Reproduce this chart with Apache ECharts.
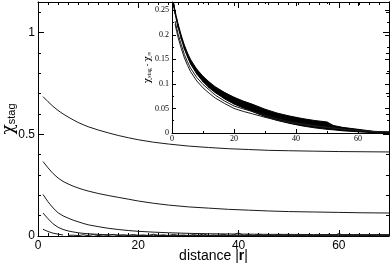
<!DOCTYPE html>
<html><head><meta charset="utf-8">
<script src="https://cdn.jsdelivr.net/npm/echarts@6/dist/echarts.min.js"></script>
<style>html,body{margin:0;padding:0;background:#fff}#c{width:390px;height:265px}</style>
</head><body><div id="c"></div>
<script>
// ---- main panel data: chi_stag vs distance |r| ----
const rMain = [1,2,3,4,5,6,7,8,9,10,12,14,16,18,20,23,26,30,34,38,42,46,50,55,60,65,70];
const chiA = [0.685,0.660,0.637,0.617,0.600,0.585,0.571,0.558,0.547,0.537,0.521,0.507,0.494,0.483,0.473,0.461,0.452,0.442,0.435,0.429,0.425,0.421,0.419,0.417,0.415,0.414,0.413];
const chiB = [0.366,0.335,0.307,0.285,0.268,0.256,0.245,0.236,0.228,0.221,0.209,0.199,0.190,0.181,0.172,0.161,0.152,0.143,0.137,0.131,0.127,0.123,0.120,0.118,0.116,0.114,0.113];
const chiC = [0.204,0.168,0.138,0.114,0.099,0.088,0.078,0.070,0.062,0.055,0.046,0.038,0.032,0.027,0.023,0.019,0.016,0.013,0.011,0.010,0.009,0.008,0.008,0.007,0.007,0.007,0.007];
const chiD = [0.113,0.085,0.060,0.043,0.032,0.025,0.020,0.016,0.013,0.011,0.008,0.006,0.005,0.004,0.003,0.003,0.002,0.002,0.002,0.002,0.002,0.002,0.002,0.002,0.002,0.002,0.002];
const rE = [1,2,3,4,5];
const chiE = [0.033,0.022,0.014,0.009,0.005];
// noisy floor of the smallest curve
const rFloor = [6,7,8,9,10,11,12,13,14,15,16,17,18,19,20,21,22,23,24,25,26,27,28,29,30,31,32,33,34,35,36,37,38,39,40,41,42,43,44,45,46,47,48,49,50,51,52,53,54,55,56,57,58,59,60,61,62,63,64,65,66,67,68,69,70];
const chiFloor = [0.003,0.004,0.002,0.006,0.002,0.007,0.002,0.005,0.003,0.008,0.002,0.005,0.002,0.007,0.003,0.005,0.002,0.009,0.003,0.006,0.002,0.008,0.003,0.005,0.002,0.007,0.003,0.010,0.002,0.005,0.003,0.008,0.002,0.006,0.015,0.003,0.007,0.002,0.009,0.003,0.006,0.002,0.009,0.003,0.007,0.002,0.005,0.003,0.008,0.002,0.006,0.003,0.009,0.002,0.012,0.003,0.005,0.002,0.007,0.003,0.004,0.002,0.006,0.003,0.004];
// ---- inset data: chi_stag - chi_inf ----
const rIn = [0.3,0.6,1,1.5,2,3,4,5,6,8,10,12,14,17,20,23,26,30,34,38,42,46,50,52,55,60,65,70];
const bandMid = [0.272,0.259,0.246,0.231,0.218,0.195,0.175,0.159,0.145,0.125,0.110,0.098,0.088,0.076,0.066,0.058,0.051,0.041,0.033,0.027,0.022,0.018,0.015,0.011,0.008,0.005,0.002,0.001];
const bandWidth = [0.006,0.006,0.006,0.006,0.007,0.007,0.008,0.008,0.009,0.010,0.011,0.012,0.012,0.013,0.014,0.014,0.015,0.015,0.015,0.015,0.015,0.015,0.015,0.009,0.007,0.005,0.003,0.002];
const rThin = [1,1.5,2,3,4,5,6,8,10,12,14,17,20,23,26,30,34,38,42,46,50,55,60,65,70];
const thin1 = [0.222,0.207,0.194,0.172,0.153,0.138,0.125,0.106,0.092,0.081,0.071,0.060,0.050,0.044,0.039,0.032,0.026,0.021,0.017,0.014,0.011,0.008,0.005,0.003,0.002];
const thin2 = [0.228,0.214,0.201,0.180,0.160,0.145,0.132,0.113,0.099,0.088,0.077,0.065,0.055,0.049,0.044,0.036,0.029,0.023,0.019,0.015,0.012,0.008,0.005,0.003,0.002];

const pairs = (xs, ys) => xs.map((x, i) => [x, ys[i]]);
const SANS = 'Liberation Sans';
const SERIF = 'Liberation Serif';
const LINE = '#1a1a1a';

function ax(extra) {
  return Object.assign({
    type: 'value',
    nameMoveOverlap: false,
    axisLine: {show: true, onZero: false, lineStyle: {color: '#000', width: 1}},
    splitLine: {show: false},
    axisTick: {show: true, inside: true, length: 6, lineStyle: {color: '#000'}},
    minorTick: {show: true, length: 3, lineStyle: {color: '#000'}},
  }, extra);
}

const mainX = {min: 0, max: 70, interval: 20, minorTick: {show: true, splitNumber: 10, length: 3, lineStyle: {color: '#000'}}};
const mainY = {min: 0, max: 1.15, interval: 0.5, minorTick: {show: true, splitNumber: 5, length: 3, lineStyle: {color: '#000'}}};
const inX = {min: 0, max: 70, interval: 20, axisTick: {show: true, inside: true, length: 4, lineStyle: {color: '#000'}}, minorTick: {show: true, splitNumber: 2, length: 2, lineStyle: {color: '#000'}}};
const inY = {min: 0, max: 0.267, interval: 0.05, axisTick: {show: true, inside: true, length: 4, lineStyle: {color: '#000'}}, minorTick: {show: true, splitNumber: 2, length: 2, lineStyle: {color: '#000'}}};

const lineS = (name, data, xi, yi, w) => ({
  name, type: 'line', data, xAxisIndex: xi, yAxisIndex: yi, symbol: 'none', silent: true,
  lineStyle: {color: LINE, width: w || 1}, z: 3
});

// band polygon segments for inset (each item: one quad between consecutive points)
const bandLow = bandMid.map((m, i) => m - bandWidth[i] / 2);
const bandHigh = bandMid.map((m, i) => m + bandWidth[i] / 2);
const bandData = rIn.slice(0, -1).map((r, i) => [r, bandLow[i], bandHigh[i], rIn[i + 1], bandLow[i + 1], bandHigh[i + 1]]);

const chart = echarts.init(document.getElementById('c'), null, {renderer: 'canvas'});
chart.setOption({
  animation: false,
  backgroundColor: '#fff',
  grid: [
    {left: 38, top: 2, right: 1, bottom: 29, outerBoundsMode: 'none', containLabel: false},
    {left: 172, top: 2, right: 1, bottom: 132, outerBoundsMode: 'none', containLabel: false}
  ],
  xAxis: [
    ax(Object.assign({gridIndex: 0, position: 'bottom',
      axisLabel: {show: true, fontFamily: SANS, fontSize: 12, color: '#000', margin: 4, showMaxLabel: false},
      name: 'distance |{b|r}|', nameLocation: 'middle', nameGap: 13,
      nameTextStyle: {fontFamily: SANS, fontSize: 14, color: '#000', rich: {b: {fontFamily: SANS, fontSize: 14, fontWeight: 'bold', color: '#000'}}}
    }, mainX)),
    ax(Object.assign({gridIndex: 0, position: 'top', axisLabel: {show: false}}, mainX)),
    ax(Object.assign({gridIndex: 1, position: 'bottom',
      axisLabel: {show: true, fontFamily: SERIF, fontSize: 8, color: '#000', margin: 2, showMaxLabel: false}
    }, inX)),
    ax(Object.assign({gridIndex: 1, position: 'top', axisLabel: {show: false}}, inX))
  ],
  yAxis: [
    ax(Object.assign({gridIndex: 0, position: 'left',
      axisLabel: {show: true, fontFamily: SANS, fontSize: 12, color: '#000', margin: 3, showMaxLabel: false},
      name: '{c|χ}{s|stag}', nameLocation: 'middle', nameGap: 21, nameRotate: 90,
      nameTextStyle: {rich: {
        c: {fontFamily: 'DejaVu Serif', fontSize: 17, color: '#000', verticalAlign: 'bottom', lineHeight: 20},
        s: {fontFamily: SANS, fontSize: 11, color: '#000', verticalAlign: 'bottom', lineHeight: 14}
      }}
    }, mainY)),
    ax(Object.assign({gridIndex: 0, position: 'right', axisLabel: {show: false}}, mainY)),
    ax(Object.assign({gridIndex: 1, position: 'left',
      axisLabel: {show: true, fontFamily: SERIF, fontSize: 8, color: '#000', margin: 3, showMaxLabel: false},
      name: '{c|χ}{s|stag}{m| - }{c|χ}{s|∞}', nameLocation: 'middle', nameGap: 20, nameRotate: 90,
      nameTextStyle: {rich: {
        c: {fontFamily: 'DejaVu Serif', fontSize: 9, color: '#000', verticalAlign: 'bottom', lineHeight: 11},
        s: {fontFamily: SERIF, fontSize: 6, color: '#000', verticalAlign: 'bottom', lineHeight: 8},
        m: {fontFamily: SERIF, fontSize: 8, color: '#000', verticalAlign: 'bottom', lineHeight: 10}
      }}
    }, inY)),
    ax(Object.assign({gridIndex: 1, position: 'right', axisLabel: {show: false}}, inY))
  ],
  series: [
    lineS('A', pairs(rMain, chiA), 0, 0),
    lineS('B', pairs(rMain, chiB), 0, 0),
    lineS('C', pairs(rMain, chiC), 0, 0),
    lineS('D', pairs(rMain, chiD), 0, 0),
    lineS('E', pairs(rE, chiE), 0, 0),
    lineS('floor', pairs(rFloor, chiFloor), 0, 0),
    {name: 'band', type: 'custom', xAxisIndex: 2, yAxisIndex: 2, silent: true, clip: true, z: 3,
      data: bandData,
      renderItem: function (params, api) {
        const p1 = api.coord([api.value(0), api.value(1)]);
        const p2 = api.coord([api.value(3), api.value(4)]);
        const p3 = api.coord([api.value(3), api.value(5)]);
        const p4 = api.coord([api.value(0), api.value(2)]);
        return {type: 'polygon', shape: {points: [p1, p2, p3, p4]},
          style: {fill: '#000', stroke: '#000', lineWidth: 1}};
      }},
    lineS('thin1', pairs(rThin, thin1), 2, 2),
    lineS('thin2', pairs(rThin, thin2), 2, 2)
  ]
});
</script></body></html>
